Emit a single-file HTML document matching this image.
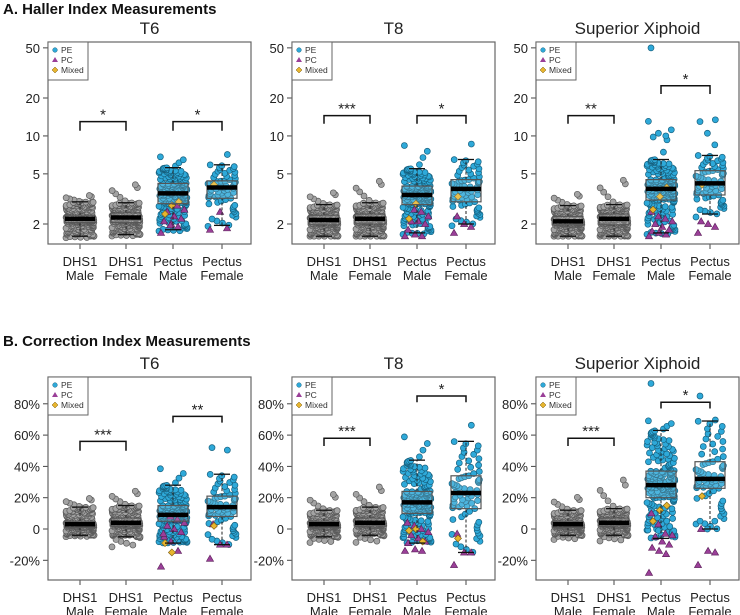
<!DOCTYPE html>
<html><head><meta charset="utf-8">
<style>
body{margin:0;background:#fff;width:740px;height:615px;overflow:hidden;font-family:"Liberation Sans",Arial,sans-serif}
svg{display:block}
</style></head>
<body>
<svg id="chart" width="740" height="615"></svg>
<script>
// ---- data (top-level arrays) ----
const categories = ["DHS1|Male","DHS1|Female","Pectus|Male","Pectus|Female"];
const panelTitles = ["T6","T8","Superior Xiphoid"];
const haller_ticks = [2,5,10,20,50];
const haller_tickLabels = ["2","5","10","20","50"];
const correction_ticks = [-20,0,20,40,60,80];
const correction_tickLabels = ["-20%","0","20%","40%","60%","80%"];
const groupCounts = [300,300,200,70];
// stats: [min, whiskerLo, q1, median, q3, whiskerHi, max]
const haller_T6_stats = [[1.55,1.6,2.05,2.2,2.35,3.0,3.4],[1.6,1.65,2.05,2.25,2.45,2.95,4.2],[1.75,1.8,2.9,3.5,4.2,5.6,7.0],[1.9,1.95,3.2,3.9,4.4,5.9,7.8]];
const haller_T8_stats = [[1.6,1.6,1.97,2.15,2.35,2.85,3.6],[1.6,1.6,2.0,2.2,2.4,2.95,4.5],[1.65,1.7,2.85,3.4,4.0,5.5,8.8],[1.9,2.0,3.0,3.8,4.5,6.5,9.8]];
const haller_SX_stats = [[1.6,1.6,1.97,2.1,2.3,2.8,3.5],[1.6,1.6,1.97,2.2,2.4,2.85,4.6],[1.65,1.7,3.1,3.8,4.5,6.5,14],[2.2,2.4,3.4,4.2,5.3,7.0,17]];
const corr_T6_stats = [[-5,-4,1,3,5,14,20],[-12,-5,2,4,7,15,25],[-8,-9,5,9,15,28,40],[0,-10,8,14,21,35,59]];
const corr_T8_stats = [[-9,-5,1,3,5,12,23],[-9,-4,2,4,7,14,28],[-5,-9,10,17,24,44,61],[3,-15,13,23,34,56,72]];
const corr_SX_stats = [[-7,-4,1,3,5,12,21],[-8,-4,2,4,7,13,33],[0,-6,20,28,37,63,70],[5,0,26,32,43,69,70]];
// extra explicit points: PE outliers, PC triangles, Mixed diamonds (per pectus group: [male, female])
const haller_T6_pe = [[],[]]; const haller_T6_pc = [[1.7,1.9,2.0,2.1,2.2,2.3,2.5,2.6,2.8,1.95],[1.8,1.85,2.5]]; const haller_T6_mixed = [[2.4,2.8,3.0],[4.1]];
const haller_T8_pe = [[],[]]; const haller_T8_pc = [[1.6,1.6,1.65,1.8,2.0,2.1,2.1,2.3,2.5,2.6],[1.7,1.9,2.0,2.3]]; const haller_T8_mixed = [[2.2,2.9],[3.3]];
const haller_SX_pe = [[50,10.5,10,9.8],[13,10.5,8.5]]; const haller_SX_pc = [[1.6,1.65,1.7,1.75,1.8,1.9,2.0,2.1,2.2,2.3,2.5],[1.7,1.9,2.0,2.1]]; const haller_SX_mixed = [[2.6,3.3,3.9],[4.1]];
const corr_T6_pe = [[],[52]]; const corr_T6_pc = [[-24,-14,-8,-5,-2,0,2,4,6,8,-3],[-19,-10,-10,3]]; const corr_T6_mixed = [[-9,-15],[2]];
const corr_T8_pe = [[],[]]; const corr_T8_pc = [[-14,-14,-13,-9,-8,-6,-4,-2,0,2,4],[-23,-15,-15,-3]]; const corr_T8_mixed = [[-1,0,-8],[-6]];
const corr_SX_pe = [[93,-1],[85,0,5]]; const corr_SX_pc = [[-28,-16,-14,-12,-10,-8,-5,-4,-3,3,10],[-23,-15,-14,0]]; const corr_SX_mixed = [[5,12,15],[21]];
// significance brackets: [catA, catB, value, dropValue, label]
const haller_T6_sig = [[0,1,13,11,"*"],[2,3,13,11,"*"]];
const haller_T8_sig = [[0,1,14.5,12.5,"***"],[2,3,14.5,12.5,"*"]];
const haller_SX_sig = [[0,1,14.5,12.5,"**"],[2,3,25,21.5,"*"]];
const corr_T6_sig = [[0,1,56,50,"***"],[2,3,72,68,"**"]];
const corr_T8_sig = [[0,1,58,53,"***"],[2,3,85,81,"*"]];
const corr_SX_sig = [[0,1,58,53,"***"],[2,3,81,77,"*"]];

const NS="http://www.w3.org/2000/svg";
const svg=document.getElementById('chart');
function mk(tag,attrs,parent){const e=document.createElementNS(NS,tag);for(const k in attrs)e.setAttribute(k,attrs[k]);(parent||svg).appendChild(e);return e;}
function txt(s,x,y,attrs,parent){const e=mk('text',Object.assign({x:x,y:y,'font-size':13,fill:'#222','text-anchor':'middle'},attrs),parent);e.textContent=s;return e;}

const QP=[0,0.02,0.25,0.5,0.75,0.98,1];
function quant(st,p){for(let k=1;k<QP.length;k++){if(p<=QP[k]){const t=(p-QP[k-1])/(QP[k]-QP[k-1]);return st[k-1]+t*(st[k]-st[k-1]);}}return st[6];}
function jit(i){return ((i*0.6180339)+(i*i*0.01373)+(i%7)*0.113)%1;}

const panels=[
 {row:0,col:0,stats:haller_T6_stats,pe:haller_T6_pe,pc:haller_T6_pc,mx:haller_T6_mixed,sig:haller_T6_sig},
 {row:0,col:1,stats:haller_T8_stats,pe:haller_T8_pe,pc:haller_T8_pc,mx:haller_T8_mixed,sig:haller_T8_sig},
 {row:0,col:2,stats:haller_SX_stats,pe:haller_SX_pe,pc:haller_SX_pc,mx:haller_SX_mixed,sig:haller_SX_sig},
 {row:1,col:0,stats:corr_T6_stats,pe:corr_T6_pe,pc:corr_T6_pc,mx:corr_T6_mixed,sig:corr_T6_sig},
 {row:1,col:1,stats:corr_T8_stats,pe:corr_T8_pe,pc:corr_T8_pc,mx:corr_T8_mixed,sig:corr_T8_sig},
 {row:1,col:2,stats:corr_SX_stats,pe:corr_SX_pe,pc:corr_SX_pc,mx:corr_SX_mixed,sig:corr_SX_sig}
];
const lefts=[48,292,536]; const W=203;
const catOff=[32,78,125,174];

let h=txt("A.  Haller Index Measurements",3,14,{'font-size':15,'font-weight':'bold','text-anchor':'start',fill:'#111'});

h=txt("B.  Correction Index Measurements",3,346,{'font-size':15,'font-weight':'bold','text-anchor':'start',fill:'#111'});


panels.forEach((P,pi)=>{
 const L=lefts[P.col], top=P.row?377:42, bot=P.row?580:244;
 const g=mk('g',{});
 
 
 const y = P.row ? (v=>529 - v*1.565) : (v=>224 - (Math.log10(v)-Math.log10(2))*126);
 const ticks=P.row?correction_ticks:haller_ticks, tl=P.row?correction_tickLabels:haller_tickLabels;
 const t=txt(panelTitles[P.col],L+W/2,top-8,{'font-size':17},g);
 
 ticks.forEach((tv,i)=>{const yy=y(tv);mk('line',{x1:L-5,x2:L,y1:yy,y2:yy,stroke:'#444'},g);
  const e=txt(tl[i],L-8,yy+5,{'text-anchor':'end','font-size':13},g);});
 categories.forEach((c,ci)=>{const x=L+catOff[ci];mk('line',{x1:x,x2:x,y1:bot,y2:bot+5,stroke:'#444'},g);
  const parts=c.split('|');const e1=txt(parts[0],x,bot+22,{},g);const e2=txt(parts[1],x,bot+36,{},g);
  
  });
 P.stats.forEach((st,ci)=>{
  const cx=L+catOff[ci], n=groupCounts[ci], pect=ci>=2;
  const pg=mk('g',{},g);
  for(let i=0;i<n;i++){const v=quant(st,(i+0.5)/n);const jx=(jit(i)-0.5)*28;
   const c=mk('circle',{cx:cx+jx,cy:y(v),r:3,fill:pect?'#2ea9d9':'#a3a3a3',stroke:pect?'#17617f':'#5a5a5a','stroke-width':0.7},pg);
   }
  if(pect){const k=ci-2;
   P.pe[k].forEach((v,i)=>{const c=mk('circle',{cx:cx+((i*0.37)%1-0.5)*20,cy:y(v),r:3,fill:'#2ea9d9',stroke:'#17617f','stroke-width':0.7},pg);});
   P.pc[k].forEach((v,i)=>{const x=cx+(((i*0.71)%1)-0.5)*24,yy=y(v);const p=mk('polygon',{points:`${x},${yy-3.6} ${x-3.6},${yy+2.6} ${x+3.6},${yy+2.6}`,fill:'#9a3f98',stroke:'#5a1f58','stroke-width':0.6},pg);});
   P.mx[k].forEach((v,i)=>{const x=cx+(((i*0.43)%1)-0.5)*16,yy=y(v);const p=mk('polygon',{points:`${x},${yy-3.5} ${x+3.5},${yy} ${x},${yy+3.5} ${x-3.5},${yy}`,fill:'#e7b52e',stroke:'#7a5a10','stroke-width':0.6},pg);});
  }
  const bw=15;
  mk('line',{x1:cx,x2:cx,y1:y(st[1]),y2:y(st[2]),stroke:'#222','stroke-dasharray':'3,2'},g);
  mk('line',{x1:cx,x2:cx,y1:y(st[4]),y2:y(st[5]),stroke:'#222','stroke-dasharray':'3,2'},g);
  mk('line',{x1:cx-8,x2:cx+8,y1:y(st[1]),y2:y(st[1]),stroke:'#111','stroke-width':1.3},g);
  mk('line',{x1:cx-8,x2:cx+8,y1:y(st[5]),y2:y(st[5]),stroke:'#111','stroke-width':1.3},g);
  const b=mk('rect',{x:cx-bw,y:y(st[4]),width:2*bw,height:y(st[2])-y(st[4]),fill:'rgba(255,255,255,0.15)',stroke:'#555','stroke-width':1.2},g);
  
  const m=mk('line',{x1:cx-bw,x2:cx+bw,y1:y(st[3]),y2:y(st[3]),stroke:'#000','stroke-width':4.5},g);
  
 });
 P.sig.forEach(s=>{const x1=L+catOff[s[0]],x2=L+catOff[s[1]],yy=y(s[2]),yd=y(s[3]);
  const br=mk('path',{d:`M${x1},${yd} V${yy} H${x2} V${yd}`,fill:'none',stroke:'#111','stroke-width':1.5},g);
  
  const e=txt(s[4],(x1+x2)/2,yy-2,{'font-size':15},g);});
 const f=mk('rect',{x:L,y:top,width:W,height:bot-top,fill:'none',stroke:'#666','stroke-width':1.2},g);
 
 const lg=mk('g',{},g);
 mk('rect',{x:L,y:top,width:40,height:38,fill:'#fff',stroke:'#666','stroke-width':1},lg);
 mk('circle',{cx:L+7,cy:top+8,r:2.3,fill:'#2ea9d9',stroke:'#17617f','stroke-width':0.5},lg);
 mk('polygon',{points:`${L+7},${top+15} ${L+4},${top+20} ${L+10},${top+20}`,fill:'#9a3f98'},lg);
 mk('polygon',{points:`${L+7},${top+25} ${L+10},${top+28} ${L+7},${top+31} ${L+4},${top+28}`,fill:'#e7b52e',stroke:'#7a5a10','stroke-width':0.5},lg);
 [["PE",11],["PC",21],["Mixed",31]].forEach(a=>{const e=txt(a[0],L+13,top+a[1],{'font-size':8.5,'text-anchor':'start','fill':'#333'},lg);});
});
</script>
</body></html>
